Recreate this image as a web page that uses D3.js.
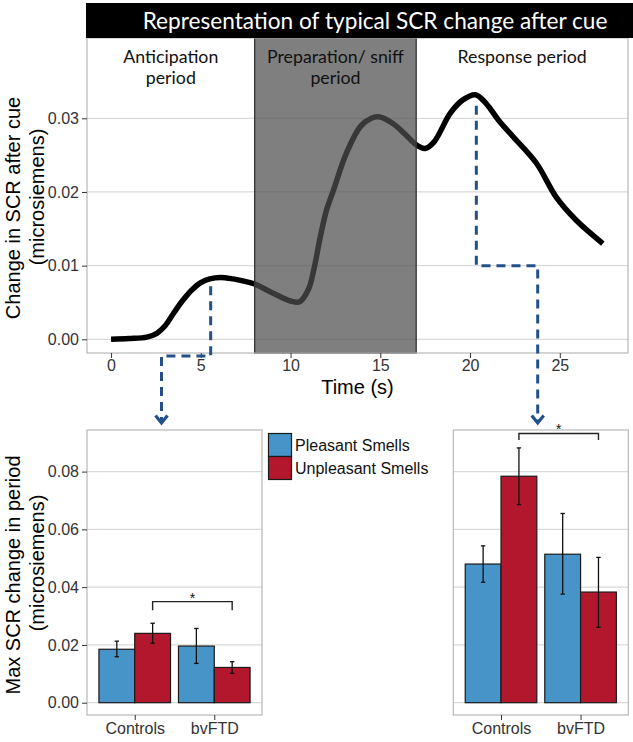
<!DOCTYPE html>
<html>
<head>
<meta charset="utf-8">
<script src="https://cdn.jsdelivr.net/npm/d3@7"></script>
<style>
  html, body { margin: 0; padding: 0; background: #fff; }
  svg { display: block; }
  .axis text { font-family: "Liberation Sans", Arial, sans-serif; font-size: 16px; fill: #333; }
  .axis line { stroke: #333; }
</style>
</head>
<body>
<svg id="chart" width="633" height="742"></svg>
<script>
// ---------------- DATA ----------------
const timeS = [0, 1, 2, 2.55, 3.0, 3.5, 4.0, 4.5, 5.0, 5.5, 6.1, 6.8, 7.4, 8.0, 9.0, 10.0, 10.5, 11.0, 11.3, 11.65, 12.0, 12.4, 13.1, 13.9, 14.5, 14.9, 15.7, 16.4, 17.0, 17.5, 18.0, 18.9, 19.6, 20.3, 20.9, 21.6, 22.4, 23.7, 24.8, 25.9, 27.4];
const scrChange = [0, 0.0001, 0.0003, 0.0008, 0.0018, 0.0036, 0.0053, 0.0067, 0.0077, 0.0082, 0.0084, 0.0082, 0.0079, 0.0075, 0.0063, 0.0052, 0.0051, 0.0068, 0.0095, 0.0138, 0.0175, 0.0203, 0.0252, 0.0289, 0.0300, 0.0302, 0.0293, 0.0278, 0.0264, 0.0259, 0.0268, 0.0307, 0.0325, 0.0332, 0.0320, 0.0297, 0.0275, 0.0239, 0.0193, 0.0162, 0.0130];
const timeTicks = [0, 5, 10, 15, 20, 25];
const scrTicks = [0, 0.01, 0.02, 0.03];
const periods = [
  {label: ["Anticipation", "period"], start: null, end: 8},
  {label: ["Preparation/ sniff", "period"], start: 8, end: 17},
  {label: ["Response period"], start: 17, end: null}
];
const headerTitle = "Representation of typical SCR change after cue";

const groups = ["Controls", "bvFTD"];
const smells = ["Pleasant Smells", "Unpleasant Smells"];
const smellColors = ["#4795c8", "#b3172d"];
const barTicks = [0, 0.02, 0.04, 0.06, 0.08];

// Anticipation period (left panel)
const antPleasant = [0.0185, 0.0196];
const antUnpleasant = [0.0240, 0.0122];
const antPleasantErr = [[0.0159, 0.0213], [0.0136, 0.0257]];
const antUnpleasantErr = [[0.0206, 0.0275], [0.0102, 0.0142]];
const antBracket = [0.032, 0.035];

// Response period (right panel)
const respPleasant = [0.0480, 0.0514];
const respUnpleasant = [0.0784, 0.0383];
const respPleasantErr = [[0.0417, 0.0543], [0.0376, 0.0655]];
const respUnpleasantErr = [[0.0686, 0.0882], [0.0261, 0.0503]];
const respBracket = [0.0909, 0.0932];

// ---------------- DRAW ----------------
const svg = d3.select("#chart");
const axisFont = '"Liberation Sans", Arial, sans-serif';
const calFont = 'Lato, "Open Sans", sans-serif';
const gridCol = "#d9d9d9";
const borderCol = "#b8b8b8";
const dashCol = "#24508a";

// ---- Top panel ----
const tp = {left: 87, right: 628, top: 38, bottom: 353};
const x = d3.scaleLinear().domain([-1.34, 28.8]).range([tp.left, tp.right]);
const y = d3.scaleLinear().domain([-0.00186, 0.0409]).range([tp.bottom, tp.top]);

const topG = svg.append("g");
topG.append("rect").attr("x", tp.left).attr("y", tp.top).attr("width", tp.right - tp.left).attr("height", tp.bottom - tp.top).attr("fill", "#fff");
topG.selectAll(".gy").data(scrTicks).join("line")
  .attr("x1", tp.left).attr("x2", tp.right)
  .attr("y1", d => y(d)).attr("y2", d => y(d))
  .attr("stroke", gridCol).attr("stroke-width", 1.2);

const line = d3.line().x((d, i) => x(timeS[i])).y(d => y(d)).curve(d3.curveCatmullRom.alpha(0.5));
topG.append("path").datum(scrChange).attr("d", line)
  .attr("fill", "none").attr("stroke", "#000").attr("stroke-width", 5.5)
  .attr("stroke-linejoin", "round").attr("stroke-linecap", "butt");

// grey preparation rect (semi transparent overlay)
topG.append("rect")
  .attr("x", x(periods[1].start)).attr("y", tp.top)
  .attr("width", x(periods[1].end) - x(periods[1].start)).attr("height", tp.bottom - tp.top)
  .attr("fill", "rgb(78,78,78)").attr("fill-opacity", 0.72)
  .attr("stroke", "#333").attr("stroke-width", 1.3);

topG.append("rect").attr("x", tp.left).attr("y", tp.top).attr("width", tp.right - tp.left).attr("height", tp.bottom - tp.top)
  .attr("fill", "none").attr("stroke", borderCol).attr("stroke-width", 1.2);

// header
svg.append("rect").attr("x", 86).attr("y", 3).attr("width", 633 - 86).attr("height", 35).attr("fill", "#000");
const hdr = svg.append("text").attr("x", 375).attr("y", 29).attr("text-anchor", "middle")
  .attr("font-family", calFont).attr("font-size", 22).attr("fill", "#fff").text(headerTitle);
{
  const w = hdr.node().getComputedTextLength();
  hdr.attr("font-size", 22 * 465 / w);
}

// strip labels
const probe = svg.append("text").attr("font-family", calFont).attr("font-size", 17).text("Anticipation");
const stripSize = 17 * 95 / probe.node().getComputedTextLength();
probe.remove();
periods.forEach(p => {
  const x0 = p.start === null ? tp.left : x(p.start);
  const x1 = p.end === null ? tp.right : x(p.end);
  const t = svg.append("text").attr("text-anchor", "middle")
    .attr("font-family", calFont).attr("font-size", stripSize).attr("fill", "#111");
  p.label.forEach((s, i) => t.append("tspan").attr("x", (x0 + x1) / 2).attr("y", 63 + i * 20.5).text(s));
});

// axes
const xAxis = svg.append("g").attr("class", "axis").attr("transform", `translate(0,${tp.bottom})`)
  .call(d3.axisBottom(x).tickValues(timeTicks).tickSize(5).tickPadding(2).tickFormat(d3.format("d")));
xAxis.select(".domain").remove();
const yAxis = svg.append("g").attr("class", "axis").attr("transform", `translate(${tp.left},0)`)
  .call(d3.axisLeft(y).tickValues(scrTicks).tickSize(5).tickPadding(3).tickFormat(d3.format(".2f")));
yAxis.select(".domain").remove();

svg.append("text").attr("x", (tp.left + tp.right) / 2).attr("y", 394).attr("text-anchor", "middle")
  .attr("font-family", axisFont).attr("font-size", 20).attr("fill", "#000").text("Time (s)");
svg.append("text").attr("transform", "translate(20,208) rotate(-90)").attr("text-anchor", "middle")
  .attr("font-family", axisFont).attr("font-size", 20).attr("fill", "#000").text("Change in SCR after cue");
svg.append("text").attr("transform", "translate(44,197) rotate(-90)").attr("text-anchor", "middle")
  .attr("font-family", axisFont).attr("font-size", 20).attr("fill", "#000").text("(microsiemens)");

// ---- Bar panels ----
const by = d3.scaleLinear().domain([-0.00426, 0.0944]).range([715, 430]);

function barPanel(x0, x1, pleasant, unpleasant, pErr, uErr, bracket, showY) {
  const bx = d3.scaleLinear().domain([0.4, 2.6]).range([x0, x1]);
  const g = svg.append("g");
  g.selectAll(".grid").data(barTicks).join("line")
    .attr("x1", x0).attr("x2", x1).attr("y1", d => by(d)).attr("y2", d => by(d))
    .attr("stroke", gridCol).attr("stroke-width", 1.2);
  const series = [pleasant, unpleasant];
  const errs = [pErr, uErr];
  series.forEach((vals, s) => {
    vals.forEach((v, i) => {
      const c = i + 1;
      const l = c - 0.45 + s * 0.45;
      g.append("rect").attr("x", bx(l)).attr("width", bx(l + 0.45) - bx(l))
        .attr("y", by(v)).attr("height", by(0) - by(v))
        .attr("fill", smellColors[s]).attr("stroke", "#1a1a1a").attr("stroke-width", 1.2);
    });
  });
  errs.forEach((arr, s) => {
    arr.forEach((e, i) => {
      const cx = bx(i + 1 - 0.225 + s * 0.45);
      g.append("line").attr("x1", cx).attr("x2", cx).attr("y1", by(e[0])).attr("y2", by(e[1])).attr("stroke", "#111").attr("stroke-width", 1.3);
      [0, 1].forEach(k => g.append("line").attr("x1", cx - 2.2).attr("x2", cx + 2.2)
        .attr("y1", by(e[k])).attr("y2", by(e[k])).attr("stroke", "#111").attr("stroke-width", 1.3));
    });
  });
  // bracket
  const ba = bx(1.225), bb = bx(2.225);
  g.append("path").attr("d", `M${ba},${by(bracket[0])}V${by(bracket[1])}H${bb}V${by(bracket[0])}`)
    .attr("fill", "none").attr("stroke", "#222").attr("stroke-width", 1.4);
  g.append("text").attr("x", (ba + bb) / 2).attr("y", by(bracket[1]) + 1).attr("text-anchor", "middle")
    .attr("font-family", axisFont).attr("font-size", 14).attr("fill", "#111").text("*");
  g.append("rect").attr("x", x0).attr("y", 430).attr("width", x1 - x0).attr("height", 285)
    .attr("fill", "none").attr("stroke", borderCol).attr("stroke-width", 1.2);
  const xa = svg.append("g").attr("class", "axis").attr("transform", "translate(0,715)")
    .call(d3.axisBottom(bx).tickValues([1, 2]).tickSize(5).tickPadding(3).tickFormat(d => groups[d - 1]));
  xa.select(".domain").remove();
  if (showY) {
    const ya = svg.append("g").attr("class", "axis").attr("transform", `translate(${x0},0)`)
      .call(d3.axisLeft(by).tickValues(barTicks).tickSize(5).tickPadding(3).tickFormat(d3.format(".2f")));
    ya.select(".domain").remove();
  }
  return bx;
}
barPanel(87, 262, antPleasant, antUnpleasant, antPleasantErr, antUnpleasantErr, antBracket, true);
barPanel(453.3, 628.3, respPleasant, respUnpleasant, respPleasantErr, respUnpleasantErr, respBracket, false);

svg.append("text").attr("transform", "translate(20,575) rotate(-90)").attr("text-anchor", "middle")
  .attr("font-family", axisFont).attr("font-size", 20).attr("fill", "#000").text("Max SCR change in period");
svg.append("text").attr("transform", "translate(44,563) rotate(-90)").attr("text-anchor", "middle")
  .attr("font-family", axisFont).attr("font-size", 20).attr("fill", "#000").text("(microsiemens)");

// legend
smells.forEach((s, i) => {
  svg.append("rect").attr("x", 268.5).attr("y", 433.5 + i * 23).attr("width", 23).attr("height", 23)
    .attr("fill", smellColors[i]).attr("stroke", "#1a1a1a").attr("stroke-width", 1.2);
  svg.append("text").attr("x", 295).attr("y", 450.5 + i * 23)
    .attr("font-family", axisFont).attr("font-size", 16).attr("fill", "#111").text(s);
});

// dashed connectors
const dashG = svg.append("g").attr("fill", "none").attr("stroke", dashCol).attr("stroke-width", 3);
const leftX = x(5.55), rightX = x(20.35);
dashG.append("path").attr("d", `M${leftX},${y(0.0072)}V356H161.5V421`).attr("stroke-dasharray", "9,6");
dashG.append("path").attr("d", `M155.5,415.5L161.5,423L167.5,415.5`).attr("stroke-width", 3.2);
dashG.append("path").attr("d", `M${rightX},${y(0.0317)}V${y(0.01)}H537.7V421`).attr("stroke-dasharray", "9,6");
dashG.append("path").attr("d", `M531.7,415.5L537.7,423L543.7,415.5`).attr("stroke-width", 3.2);
</script>
</body>
</html>
